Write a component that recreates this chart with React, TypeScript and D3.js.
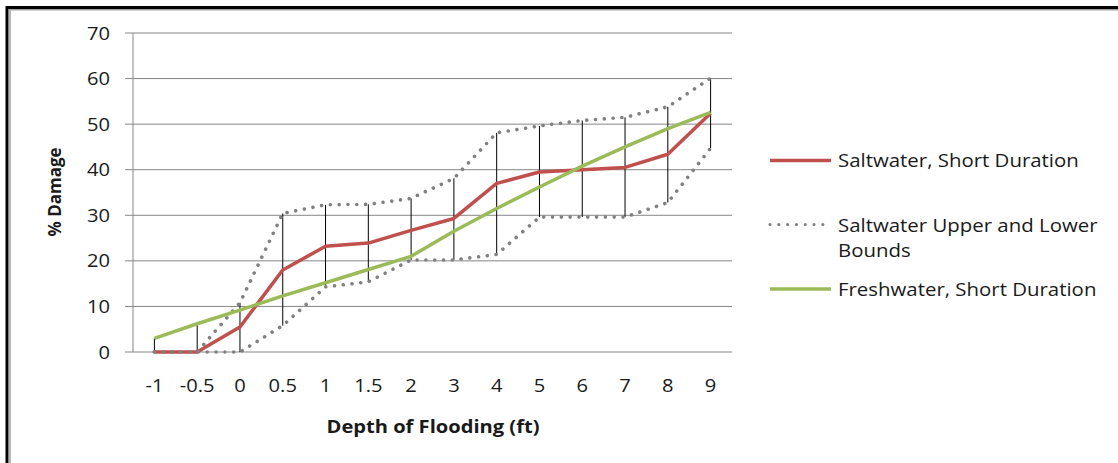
import React from "react";
import * as d3 from "d3";

const categories = ["-1", "-0.5", "0", "0.5", "1", "1.5", "2", "3", "4", "5", "6", "7", "8", "9"];
const saltwater = [0, 0, 5.5, 18, 23.2, 23.9, 26.7, 29.3, 37, 39.5, 40, 40.5, 43.4, 52.4];
const saltUpper = [0, 0, 10.8, 30.4, 32.3, 32.4, 33.7, 38.1, 48.1, 49.6, 50.8, 51.5, 53.8, 60.1];
const saltLower = [0, 0, 0, 5.8, 14.3, 15.4, 20.2, 20.2, 21.4, 29.6, 29.6, 29.6, 32.8, 44.7];
const freshwater = [3, 6.2, 9.2, 12.3, 15.2, 18.1, 21, 26.5, 31.5, 36.2, 40.8, 45, 49, 52.6];
const yTicks = [0, 10, 20, 30, 40, 50, 60, 70];

const legendItems = [
  { lines: ["Saltwater, Short Duration"], color: "#C0504D", dotted: false },
  { lines: ["Saltwater Upper and Lower", "Bounds"], color: "#808080", dotted: true },
  { lines: ["Freshwater, Short Duration"], color: "#9BBB59", dotted: false },
];

const W = 1118;
const H = 463;
const left = 133;
const right = 732;
const top = 33;
const bottom = 352;
const SX = 1.15;
const FONT = "'Open Sans', sans-serif";
const GRID = "#868686";

function T({ x, y, anchor = "start", size = 17.5, weight = 400, sx = SX, children }: any) {
  return (
    <text
      transform={`translate(${x},${y}) scale(${sx},1)`}
      textAnchor={anchor}
      fontFamily={FONT}
      fontSize={size}
      fontWeight={weight}
      fill="#1a1a1a"
    >
      {children}
    </text>
  );
}

export default function App() {
  const x = d3.scaleBand<string>().domain(categories).range([left, right]);
  const cx = (c: string) => (x(c) as number) + x.bandwidth() / 2;
  const y = d3.scaleLinear().domain([0, 70]).range([bottom, top]);

  const line = d3
    .line<number>()
    .x((_, i) => cx(categories[i]))
    .y((d) => y(d));

  const allSeries = [saltwater, saltUpper, saltLower, freshwater];
  const hiLo = categories.map((c, i) => {
    const vals = allSeries.map((s) => s[i]);
    return { c, hi: d3.max(vals) as number, lo: d3.min(vals) as number };
  });

  const dotStyle = { strokeDasharray: "0.01 8.8", strokeLinecap: "round" as const };

  return (
    <svg
      width={W}
      height={H}
      style={{ position: "absolute", left: 0, top: 0, background: "#fff" }}
    >
      <rect x={0} y={0} width={W} height={H} fill="#fff" />
      {/* frame */}
      <path d={`M7,${H} V7.5 H${W}`} fill="none" stroke="#000" strokeWidth={3} />
      <path d={`M10,${H} V9.8 H${W}`} fill="none" stroke="#a0a0a0" strokeWidth={1.5} />

      {/* gridlines and y ticks */}
      {yTicks.map((t) => (
        <g key={t}>
          <line x1={left - 8} x2={right} y1={y(t)} y2={y(t)} stroke={GRID} strokeWidth={1} />
          <T x={110} y={y(t) + 6.5} anchor="end">
            {t}
          </T>
        </g>
      ))}
      <line x1={left} x2={left} y1={top} y2={bottom} stroke={GRID} strokeWidth={1} />

      {/* x tick labels */}
      {categories.map((c) => (
        <T key={c} x={cx(c)} y={392} anchor="middle">
          {c}
        </T>
      ))}

      {/* high-low lines */}
      {hiLo.map((d) => (
        <line
          key={d.c}
          x1={cx(d.c)}
          x2={cx(d.c)}
          y1={y(d.hi)}
          y2={y(d.lo)}
          stroke="#000"
          strokeWidth={1}
        />
      ))}

      {/* series */}
      <path d={line(saltwater) as string} fill="none" stroke="#C0504D" strokeWidth={3.5} strokeLinejoin="round" />
      <path d={line(saltUpper) as string} fill="none" stroke="#808080" strokeWidth={3.6} style={dotStyle} />
      <path d={line(saltLower) as string} fill="none" stroke="#808080" strokeWidth={3.6} style={dotStyle} />
      <path d={line(freshwater) as string} fill="none" stroke="#9BBB59" strokeWidth={3.5} strokeLinejoin="round" />

      {/* axis titles */}
      <T x={433} y={433} anchor="middle" weight={700}>
        Depth of Flooding (ft)
      </T>
      <text
        transform={`translate(61,192) rotate(-90)`}
        textAnchor="middle"
        fontFamily={FONT}
        fontSize={17}
        fontWeight={700}
        fill="#1a1a1a"
      >
        % Damage
      </text>

      {/* legend */}
      {legendItems.map((item, i) => {
        const ly = [160.5, 224.5, 289][i];
        const by = [167, 231.5, 295.5][i];
        return (
          <g key={i}>
            <line
              x1={770}
              x2={831}
              y1={ly}
              y2={ly}
              stroke={item.color}
              strokeWidth={item.dotted ? 3.2 : 3.5}
              strokeLinecap={item.dotted ? "round" : "butt"}
              style={item.dotted ? dotStyle : undefined}
            />
            {item.lines.map((s, j) => (
              <T key={j} x={838} y={by + j * 25.5} size={18.3} sx={1.115}>
                {s}
              </T>
            ))}
          </g>
        );
      })}
    </svg>
  );
}
